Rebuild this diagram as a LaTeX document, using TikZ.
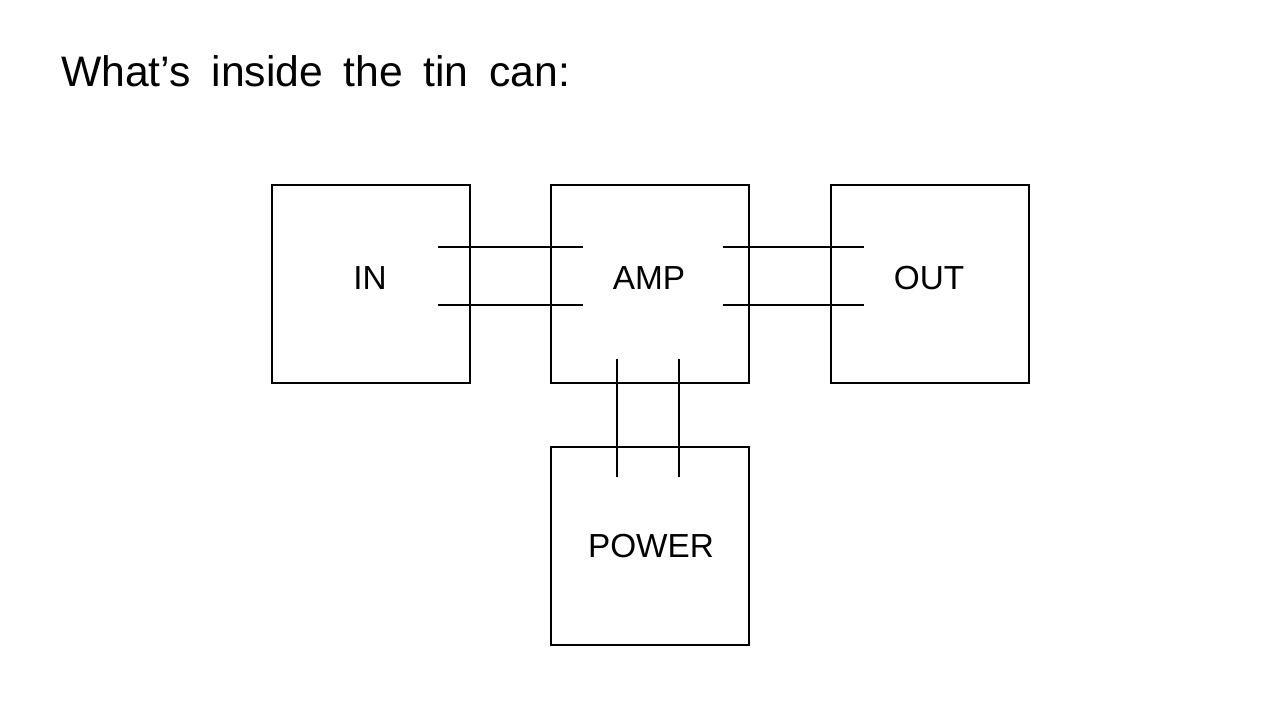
\documentclass[tikz,border=0pt]{standalone}
\usepackage{fontspec}
\setmainfont{Liberation Sans}
\begin{document}
\begin{tikzpicture}[x=0.75pt,y=-0.75pt,
  blk/.style={draw=black,line width=1.5pt,minimum width=148.5pt,minimum height=148.5pt,inner sep=0pt},
  wire/.style={draw=black,line width=1.5pt},
  lbl/.style={anchor=base,font=\fontsize{25}{30}\selectfont}]
\useasboundingbox (0,0) rectangle (1280,720);
\node[anchor=base west,inner sep=0pt,font=\fontsize{32}{38}\selectfont] (title) at (61,87) {\spaceskip=15.5pt What’s inside the tin can:};
\node[blk] (in) at (371,284) {};
\node[blk] (amp) at (650,284) {};
\node[blk] (out) at (929.5,284) {};
\node[blk] (pow) at (650,545.5) {};
\node[lbl] (inl) at (370,289) {IN};
\node[lbl] (ampl) at (649,289) {AMP};
\node[lbl] (outl) at (929,289) {OUT};
\node[lbl] (powl) at (651,557) {POWER};
% wire endpoints
\coordinate (a1) at (438,247); \coordinate (b1) at (583,247);
\coordinate (a2) at (438,305); \coordinate (b2) at (583,305);
\coordinate (c1) at (723,247); \coordinate (d1) at (864,247);
\coordinate (c2) at (723,305); \coordinate (d2) at (864,305);
\coordinate (e1) at (617,359); \coordinate (f1) at (617,477);
\coordinate (e2) at (679,359); \coordinate (f2) at (679,477);
\draw[wire] (a1) -- (b1);
\draw[wire] (a2) -- (b2);
\draw[wire] (c1) -- (d1);
\draw[wire] (c2) -- (d2);
\draw[wire] (e1) -- (f1);
\draw[wire] (e2) -- (f2);
\end{tikzpicture}
\end{document}
